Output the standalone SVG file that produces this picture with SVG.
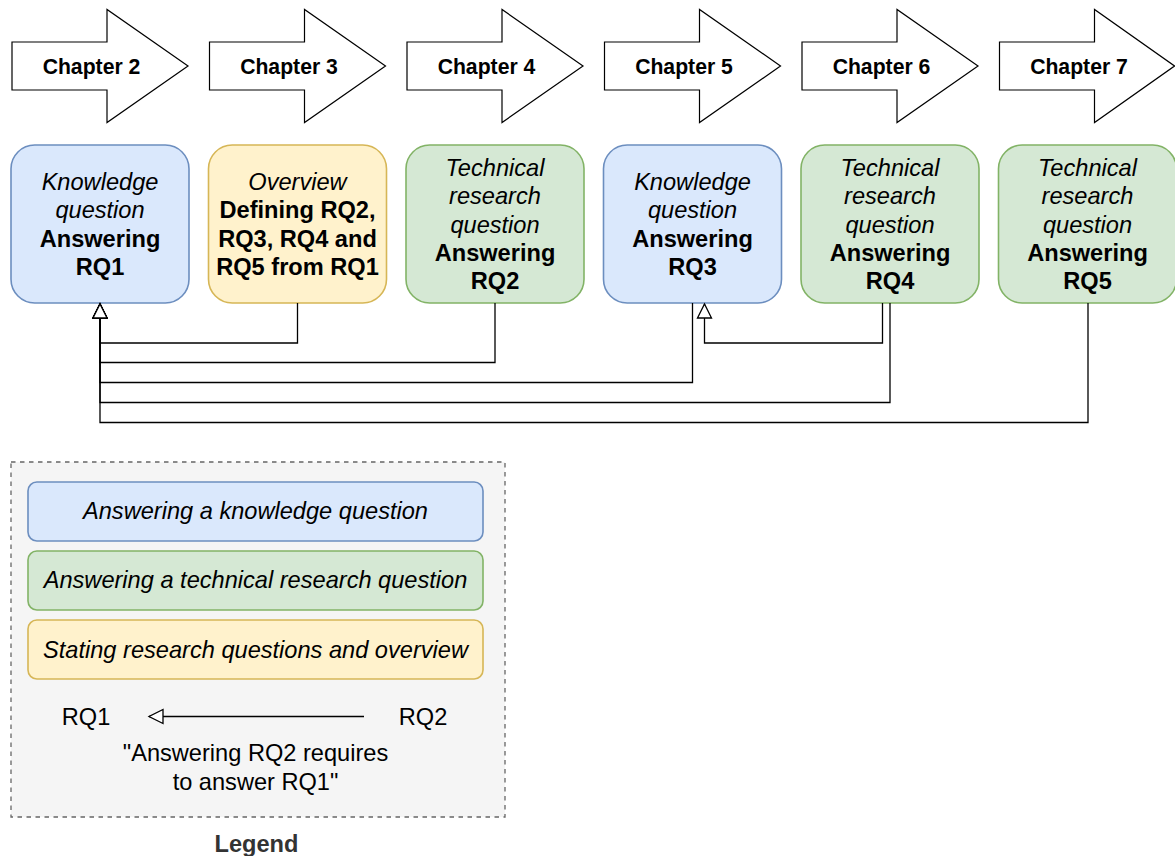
<svg xmlns="http://www.w3.org/2000/svg" width="1175" height="856" viewBox="0 0 1175 856">
<style>
text{font-family:"Liberation Sans",Arial,sans-serif;fill:#000;text-anchor:middle}
.ch{font-size:21.2px;font-weight:bold}
.t{font-size:23.6px}
.i{font-style:italic}
.b{font-weight:bold}
.arrow{fill:#fff;stroke:#000;stroke-width:1.2}
.blue{fill:#dae8fc;stroke:#6c8ebf;stroke-width:1.6}
.green{fill:#d5e8d4;stroke:#82b366;stroke-width:1.6}
.yellow{fill:#fff2cc;stroke:#d6b656;stroke-width:1.6}
.con{fill:none;stroke:#000;stroke-width:1.3}
</style>
<defs>
<marker id="open" markerUnits="userSpaceOnUse" markerWidth="18" markerHeight="18" refX="14" refY="7" orient="auto" overflow="visible">
<path d="M0,0 L14,7 L0,14 Z" fill="#fff" stroke="#000" stroke-width="1.3"/>
</marker>
</defs>

<g id="chapter2"><path class="arrow" d="M12,42 H107 V9.5 L188,66 L107,122.5 V90 H12 Z"/><text class="ch" x="91.5" y="74">Chapter 2</text></g>
<g id="chapter3"><path class="arrow" d="M209.5,42 H304.5 V9.5 L385.5,66 L304.5,122.5 V90 H209.5 Z"/><text class="ch" x="289" y="74">Chapter 3</text></g>
<g id="chapter4"><path class="arrow" d="M407,42 H502 V9.5 L583,66 L502,122.5 V90 H407 Z"/><text class="ch" x="486.5" y="74">Chapter 4</text></g>
<g id="chapter5"><path class="arrow" d="M604.5,42 H699.5 V9.5 L780.5,66 L699.5,122.5 V90 H604.5 Z"/><text class="ch" x="684" y="74">Chapter 5</text></g>
<g id="chapter6"><path class="arrow" d="M802,42 H897 V9.5 L978,66 L897,122.5 V90 H802 Z"/><text class="ch" x="881.5" y="74">Chapter 6</text></g>
<g id="chapter7"><path class="arrow" d="M999.5,42 H1094.5 V9.5 L1174.5,66 L1094.5,122.5 V90 H999.5 Z"/><text class="ch" x="1079" y="74">Chapter 7</text></g>

<g id="rq1"><rect class="blue" x="11" y="145" width="178" height="158" rx="23.7"/>
<text class="t" x="100"><tspan class="i" x="100" y="190">Knowledge</tspan><tspan class="i" x="100" y="218.4">question</tspan><tspan class="b" x="100" y="246.7">Answering</tspan><tspan class="b" x="100" y="275">RQ1</tspan></text></g>
<g id="overview"><rect class="yellow" x="208.5" y="145" width="178" height="158" rx="23.7"/>
<text class="t" x="297.5"><tspan class="i" x="297.5" y="190">Overview</tspan><tspan class="b" x="297.5" y="218.4">Defining RQ2,</tspan><tspan class="b" x="297.5" y="246.7">RQ3, RQ4 and</tspan><tspan class="b" x="297.5" y="275">RQ5 from RQ1</tspan></text></g>
<g id="rq2"><rect class="green" x="406" y="145" width="178" height="158" rx="23.7"/>
<text class="t" x="495"><tspan class="i" x="495" y="175.9">Technical</tspan><tspan class="i" x="495" y="204.2">research</tspan><tspan class="i" x="495" y="232.5">question</tspan><tspan class="b" x="495" y="260.8">Answering</tspan><tspan class="b" x="495" y="289.1">RQ2</tspan></text></g>
<g id="rq3"><rect class="blue" x="603.5" y="145" width="178" height="158" rx="23.7"/>
<text class="t" x="692.5"><tspan class="i" x="692.5" y="190">Knowledge</tspan><tspan class="i" x="692.5" y="218.4">question</tspan><tspan class="b" x="692.5" y="246.7">Answering</tspan><tspan class="b" x="692.5" y="275">RQ3</tspan></text></g>
<g id="rq4"><rect class="green" x="801" y="145" width="178" height="158" rx="23.7"/>
<text class="t" x="890"><tspan class="i" x="890" y="175.9">Technical</tspan><tspan class="i" x="890" y="204.2">research</tspan><tspan class="i" x="890" y="232.5">question</tspan><tspan class="b" x="890" y="260.8">Answering</tspan><tspan class="b" x="890" y="289.1">RQ4</tspan></text></g>
<g id="rq5"><rect class="green" x="998.5" y="145" width="178" height="158" rx="23.7"/>
<text class="t" x="1087.5"><tspan class="i" x="1087.5" y="175.9">Technical</tspan><tspan class="i" x="1087.5" y="204.2">research</tspan><tspan class="i" x="1087.5" y="232.5">question</tspan><tspan class="b" x="1087.5" y="260.8">Answering</tspan><tspan class="b" x="1087.5" y="289.1">RQ5</tspan></text></g>

<g id="connectors">
<path class="con" d="M297.5,303 V343 H100 V304" marker-end="url(#open)"/>
<path class="con" d="M495,303 V362.5 H100 V304" marker-end="url(#open)"/>
<path class="con" d="M692.5,303 V382.5 H100 V304" marker-end="url(#open)"/>
<path class="con" d="M882.5,303 V343 H704.5 V304" marker-end="url(#open)"/>
<path class="con" d="M890,303 V402.5 H100 V304" marker-end="url(#open)"/>
<path class="con" d="M1088,303 V422.5 H100 V304" marker-end="url(#open)"/>
</g>

<g id="legend">
<rect x="11" y="462" width="494" height="355" fill="#f5f5f5" stroke="#666666" stroke-width="1.3" stroke-dasharray="4.5 4.5"/>
<g id="legend-knowledge"><rect class="blue" x="28" y="482" width="455" height="59" rx="8.9"/><text class="t i" x="255.5" y="518.5">Answering a knowledge question</text></g>
<g id="legend-technical"><rect class="green" x="28" y="551" width="455" height="59" rx="8.9"/><text class="t i" x="255.5" y="587.5">Answering a technical research question</text></g>
<g id="legend-overview"><rect class="yellow" x="28" y="620" width="455" height="59" rx="8.9"/><text class="t i" x="255.5" y="657.5">Stating research questions and overview</text></g>
<text class="t" x="86" y="724.5">RQ1</text>
<text class="t" x="423" y="724.5">RQ2</text>
<path class="con" d="M364,716.5 H149" marker-end="url(#open)"/>
<text class="t" x="255.5"><tspan x="255.5" y="760.5">"Answering RQ2 requires</tspan><tspan x="255.5" y="790">to answer RQ1"</tspan></text>
<text class="t b" x="256.5" y="851.5" style="fill:#333333">Legend</text>
</g>
</svg>
